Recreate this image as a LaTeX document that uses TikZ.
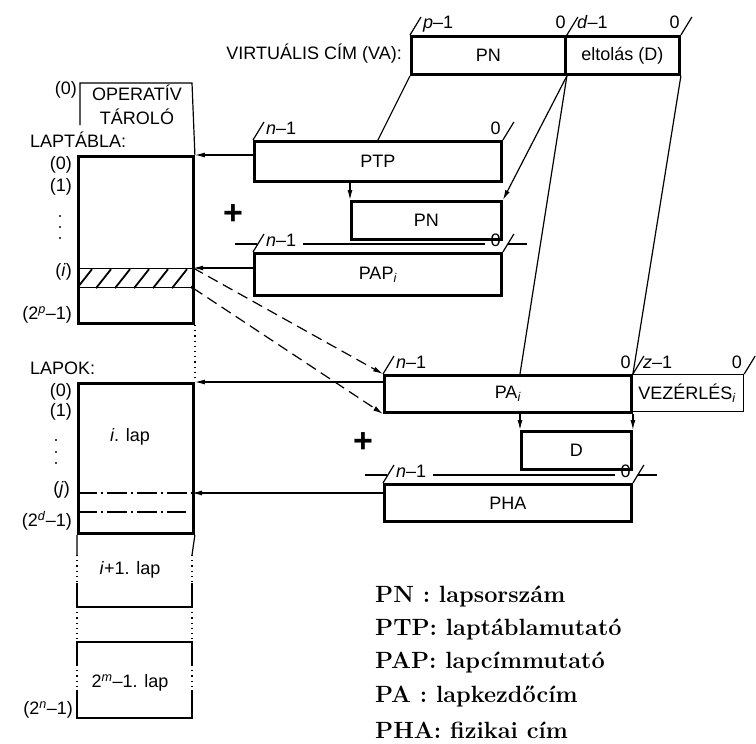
\documentclass[tikz,border=0pt]{standalone}
\usepackage{fontspec}
\setsansfont{Liberation Sans}
\usetikzlibrary{arrows.meta, calc}

\newcommand{\bitmark}[1]{\draw[thinline] #1 -- ++(11,-18);}

\begin{document}
\begin{tikzpicture}[x=1pt, y=-1pt,
    box/.style={draw, line width=2.9pt, inner sep=0pt, anchor=north west,
      font=\sffamily\fontsize{18}{20}\selectfont},
    thinbox/.style={box, line width=1.2pt},
    thinline/.style={line width=1.2pt},
    dotline/.style={line width=1.2pt, dash pattern=on 1.2pt off 4pt},
    dashdot/.style={line width=1.2pt, dash pattern=on 20pt off 4pt on 2pt off 4pt},
    arr/.style={thinline, -{Latex[length=10pt, width=5pt]}},
    dasharr/.style={arr, dash pattern=on 11pt off 6pt},
    lbl/.style={font=\sffamily\fontsize{18}{20}\selectfont, inner sep=0pt},
    legend/.style={font=\rmfamily\bfseries\fontsize{23.5}{28}\selectfont, inner sep=0pt, anchor=west}]
  \useasboundingbox (0,0) rectangle (756,744);

  % virtual address
  \node[lbl, anchor=east] (vacim) at (402,54) {VIRTUÁLIS CÍM (VA):};
  \node[box, minimum width=154, minimum height=38] (vapn) at (410,35) {PN};
  \node[box, minimum width=114, minimum height=38] (vad) at (564,35) {eltolás (D)};
  \bitmark{(vapn.north west)}
  \node[lbl, anchor=base west] (vap) at ([shift={(13,-7)}]vapn.north west) {\textit{p}--1};
  \node[lbl, anchor=base east] (va0a) at ([shift={(-1,-7)}]vapn.north east) {0};
  \bitmark{(vapn.north east)}
  \node[lbl, anchor=base west] (vadd) at ([shift={(13,-7)}]vad.north west) {\textit{d}--1};
  \node[lbl, anchor=base east] (va0b) at ([shift={(-1,-7)}]vad.north east) {0};
  \bitmark{(vad.north east)}

  % page table lookup
  \node[box, minimum width=247, minimum height=40] (ptp) at (253,140) {PTP};
  \bitmark{(ptp.north west)}
  \node[lbl, anchor=base west] (ptpn) at ([shift={(13,-6)}]ptp.north west) {\textit{n}--1};
  \node[lbl, anchor=base east] (ptp0) at ([shift={(-2,-6)}]ptp.north east) {0};
  \bitmark{(ptp.north east)}
  \node[box, minimum width=150, minimum height=38] (pn) at (350,200) {PN};
  \node[lbl, font=\sffamily\bfseries\fontsize{34}{34}\selectfont] (plusa) at (233,215) {+};
  \node[box, minimum width=247, minimum height=42] (pap) at (253,252) {PAP\textsubscript{\textit{i}}};
  \bitmark{(pap.north west)}
  \node[lbl, anchor=base west] (papn) at ([shift={(13,-6)}]pap.north west) {\textit{n}--1};
  \node[lbl, anchor=base east] (pap0) at ([shift={(-2,-6)}]pap.north east) {0};
  \bitmark{(pap.north east)}
  \draw[thinline] ([shift={(-18,-8)}]pap.north west) -- ([shift={(4,-8)}]pap.north west);
  \draw[thinline] ([shift={(50,-8)}]pap.north west) -- ([shift={(-18,-8)}]pap.north east);
  \draw[thinline] ([shift={(5,-8)}]pap.north east) -- ([shift={(24,-8)}]pap.north east);

  % physical address
  \node[box, minimum width=247, minimum height=37] (pa) at (383,374) {PA\textsubscript{\textit{i}}};
  \node[thinbox, minimum width=113, minimum height=37] (vez) at (630,374) {VEZÉRLÉS\textsubscript{\textit{i}}};
  \bitmark{(pa.north west)}
  \node[lbl, anchor=base west] (pan) at ([shift={(13,-6)}]pa.north west) {\textit{n}--1};
  \node[lbl, anchor=base east] (pa0) at ([shift={(-2,-6)}]pa.north east) {0};
  \bitmark{(pa.north east)}
  \node[lbl, anchor=base west] (vezz) at ([shift={(13,-6)}]vez.north west) {\textit{z}--1};
  \node[lbl, anchor=base east] (vez0) at ([shift={(-2,-6)}]vez.north east) {0};
  \bitmark{(vez.north east)}
  \node[box, minimum width=110, minimum height=38] (d) at (520,430) {D};
  \node[lbl, font=\sffamily\bfseries\fontsize{34}{34}\selectfont] (plusb) at (363,443) {+};
  \node[box, minimum width=247, minimum height=37] (pha) at (383,483) {PHA};
  \bitmark{(pha.north west)}
  \node[lbl, anchor=base west] (phan) at ([shift={(13,-6)}]pha.north west) {\textit{n}--1};
  \node[lbl, anchor=base east] (pha0) at ([shift={(-2,-6)}]pha.north east) {0};
  \bitmark{(pha.north east)}
  \draw[thinline] ([shift={(-18,-8)}]pha.north west) -- ([shift={(4,-8)}]pha.north west);
  \draw[thinline] ([shift={(50,-8)}]pha.north west) -- ([shift={(-18,-8)}]pha.north east);
  \draw[thinline] ([shift={(5,-8)}]pha.north east) -- ([shift={(24,-8)}]pha.north east);

  % main memory
  \node[lbl, anchor=east] (mem0) at (77,90) {(0)};
  \node[lbl] (oper) at (137,93) {OPERATÍV};
  \node[lbl] (taro) at (137,117) {TÁROLÓ};
  \node[lbl, anchor=west] (lthead) at (30,140) {LAPTÁBLA:};
  \node[box, minimum width=115, minimum height=167] (lt) at (77,155) {};
  \draw[thinline] (80,125) -- (80,83) -- (192,83) -- (lt.north east);
  \node[draw, thinline, inner sep=0pt, anchor=north west,
    minimum width=115, minimum height=19] (hatch) at (77,268) {};
  \begin{scope}
    \clip (hatch.south west) rectangle (hatch.north east);
    \foreach \x in {0,19,...,114}
      \draw[line width=1.8pt] ([xshift=\x]hatch.south west) -- ++(15,-19);
  \end{scope}
  \node[lbl, anchor=east] (lt0) at (72,165) {(0)};
  \node[lbl, anchor=east] (lt1) at (72,187) {(1)};
  \node[lbl, anchor=east] (lti) at (72,272) {(\textit{i})};
  \node[lbl, anchor=east] (ltp) at (72,315) {(2\textsuperscript{\textit{p}}--1)};
  \foreach \y in {216,227,238}
    \fill (60,\y) circle (1.2);

  \node[lbl, anchor=west] (lphead) at (30,368) {LAPOK:};
  \node[box, minimum width=115, minimum height=150] (lap) at (77,382) {};
  \draw[dotline] (lt.south east) -- (lap.north east);
  \node[lbl] (ilap) at (130,437) {\textit{i}. lap};
  \coordinate (jrow) at (192,493);
  \draw[dashdot] (77,493) -- (jrow);
  \draw[dashdot] (77,512) -- (186,512);
  \node[lbl, anchor=east] (lp0) at (72,392) {(0)};
  \node[lbl, anchor=east] (lp1) at (72,412) {(1)};
  \node[lbl, anchor=east] (lpj) at (70,490) {(\textit{j})};
  \node[lbl, anchor=east] (lpd) at (72,521) {(2\textsuperscript{\textit{d}}--1)};
  \foreach \y in {440,452,463}
    \fill (56,\y) circle (1.2);
  \draw[thinline] (lap.south west) -- (77,555) (lap.south east) -- (192,555);
  \draw[dotline] (77,555) -- (77,583) (192,555) -- (192,583);
  \draw[thinline] (77,583) -- (77,607) -- (192,607) -- (192,583);
  \draw[dotline] (77,607) -- (77,642) (192,607) -- (192,642);
  \draw[thinline] (77,665) -- (77,642) -- (192,642) -- (192,665);
  \draw[dotline] (77,665) -- (77,690) (192,665) -- (192,690);
  \draw[thinline] (77,690) -- (77,718) -- (192,718) -- (192,690);
  \node[lbl] (i1lap) at (130,570) {\textit{i}+1. lap};
  \node[lbl] (mlap) at (130,683) {2\textsuperscript{\textit{m}}--1. lap};
  \node[lbl, anchor=east] (lpn) at (73,710) {(2\textsuperscript{\textit{n}}--1)};

  % connectors
  \draw[thinline] (vapn.south west) -- (ptp.north);
  \draw[arr] (vapn.south east) -- (pn.north east);
  \draw[thinline] (vapn.south east) -- (d.north west |- pa.north);
  \draw[thinline] (vad.south east) -- (pa.north east);
  \draw[arr] (pn.north west |- ptp.south) -- (pn.north west);
  \draw[arr] (d.north west |- pa.south) -- (d.north west);
  \draw[arr] (pa.south east) -- (d.north east);
  \draw[arr] (ptp.west |- lt.north east) -- (lt.north east);
  \draw[arr] (pap.west |- hatch.north east) -- (hatch.north east);
  \draw[dasharr] (hatch.north east) -- (pa.north west);
  \draw[dasharr] (hatch.south east) -- (pa.south west);
  \draw[arr] (pa.west |- lap.north east) -- (lap.north east);
  \draw[arr] (pha.west |- jrow) -- (jrow);

  % legend
  \node[legend] (lg1) at (375,597) {PN : lapsorszám};
  \node[legend] (lg2) at (375,630) {PTP: laptáblamutató};
  \node[legend] (lg3) at (375,663) {PAP: lapcímmutató};
  \node[legend] (lg4) at (375,697) {PA : lapkezdőcím};
  \node[legend] (lg5) at (375,730) {PHA: fizikai cím};
\end{tikzpicture}
\end{document}
